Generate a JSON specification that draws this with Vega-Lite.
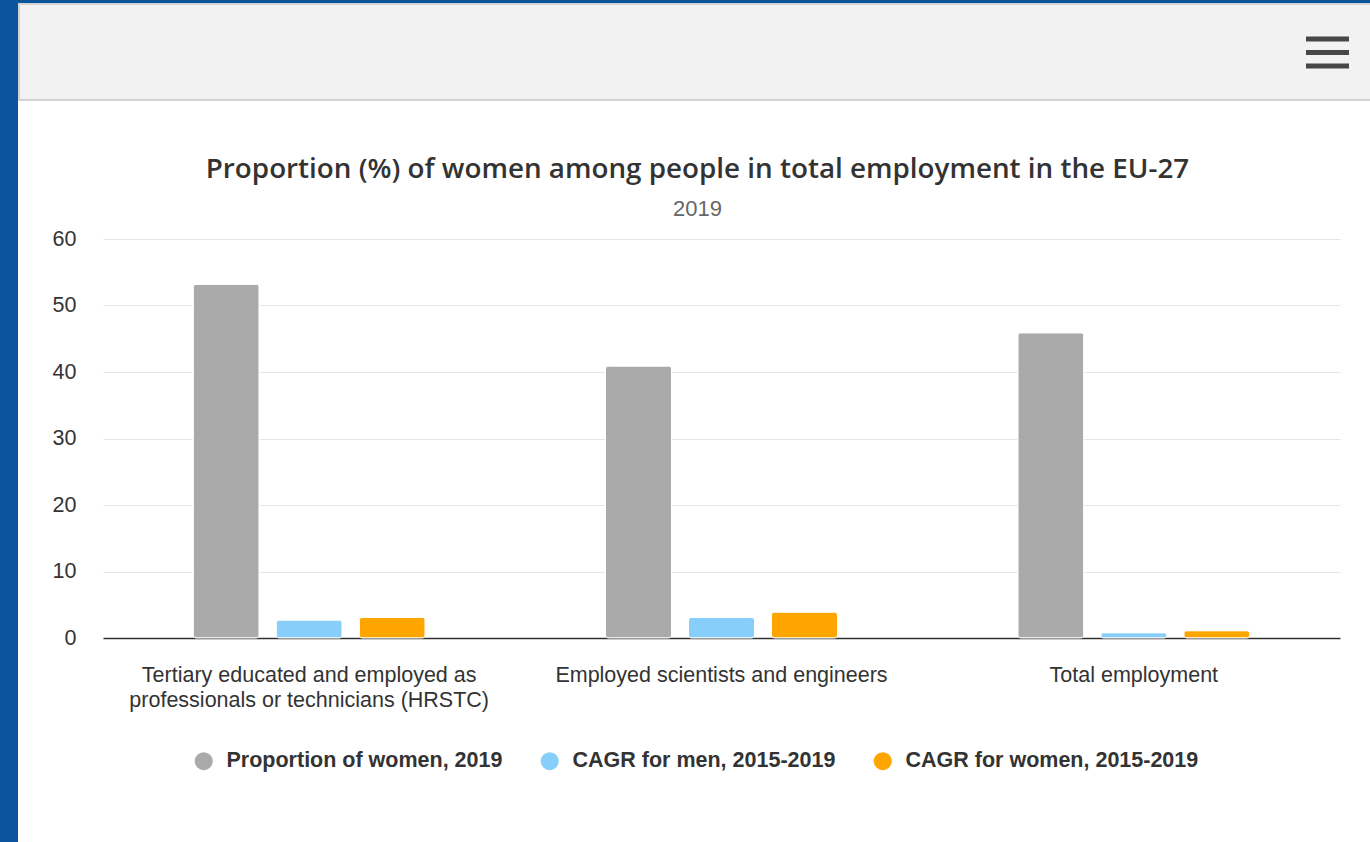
{
  "$schema": "https://vega.github.io/schema/vega-lite/v6.json",
  "background": "white",
  "padding": 0,
  "config": {"view": {"stroke": null}},
  "spacing": 0,
  "hconcat": [
    {
      "width": 18, "height": 842,
      "view": {"fill": "#0a559b", "stroke": null},
      "data": {"values": []},
      "mark": "point",
      "encoding": {}
    },
    {
      "spacing": 55,
      "vconcat": [
        {
          "width": 1267, "height": 100,
          "data": {"values": [{"part": "header"}]},
          "encoding": {
            "x": {"datum": -85, "type": "quantitative", "scale": {"domain": [0, 1267], "nice": false, "zero": false}, "axis": null},
            "y": {"datum": 0, "type": "quantitative", "scale": {"domain": [0, 100], "reverse": true, "nice": false, "zero": false}, "axis": null}
          },
          "layer": [
            {
              "mark": {"type": "rect", "fill": "#0a559b"},
              "encoding": {
                "x": {"datum": -85, "type": "quantitative"},
                "x2": {"datum": 1267},
                "y": {"datum": 0, "type": "quantitative"},
                "y2": {"datum": 3}
              }
            },
            {
              "mark": {"type": "rect", "fill": "#f2f2f2", "stroke": "#d3d3d3", "strokeWidth": 2},
              "encoding": {
                "x": {"datum": -84, "type": "quantitative"},
                "x2": {"datum": 1268},
                "y": {"datum": 4, "type": "quantitative"},
                "y2": {"datum": 100}
              }
            },
            {
              "mark": {"type": "rule", "strokeWidth": 5, "color": "#474747"},
              "encoding": {
                "x": {"datum": 1203, "type": "quantitative"},
                "x2": {"datum": 1246},
                "y": {"datum": 39, "type": "quantitative"}
              }
            },
            {
              "mark": {"type": "rule", "strokeWidth": 5, "color": "#474747"},
              "encoding": {
                "x": {"datum": 1203, "type": "quantitative"},
                "x2": {"datum": 1246},
                "y": {"datum": 52.5, "type": "quantitative"}
              }
            },
            {
              "mark": {"type": "rule", "strokeWidth": 5, "color": "#474747"},
              "encoding": {
                "x": {"datum": 1203, "type": "quantitative"},
                "x2": {"datum": 1246},
                "y": {"datum": 66, "type": "quantitative"}
              }
            }
          ]
        },
        {
          "width": 1237, "height": 399,
          "title": {
            "text": "Proportion (%) of women among people in total employment in the EU-27",
            "subtitle": "2019",
            "font": "Open Sans",
            "fontSize": 27.8,
            "fontWeight": 600,
            "color": "#333333",
            "subtitleFont": "Liberation Sans",
            "subtitleFontSize": 22,
            "subtitleColor": "#666666",
            "subtitlePadding": 15,
            "anchor": "middle",
            "frame": "group",
            "dx": -24,
            "offset": 8
          },
          "data": {"values": [
            {"category": "Tertiary educated and employed as professionals or technicians (HRSTC)", "series": "Proportion of women, 2019", "value": 53.2},
            {"category": "Tertiary educated and employed as professionals or technicians (HRSTC)", "series": "CAGR for men, 2015-2019", "value": 2.7},
            {"category": "Tertiary educated and employed as professionals or technicians (HRSTC)", "series": "CAGR for women, 2015-2019", "value": 3.1},
            {"category": "Employed scientists and engineers", "series": "Proportion of women, 2019", "value": 40.9},
            {"category": "Employed scientists and engineers", "series": "CAGR for men, 2015-2019", "value": 3.1},
            {"category": "Employed scientists and engineers", "series": "CAGR for women, 2015-2019", "value": 3.9},
            {"category": "Total employment", "series": "Proportion of women, 2019", "value": 45.9},
            {"category": "Total employment", "series": "CAGR for men, 2015-2019", "value": 0.8},
            {"category": "Total employment", "series": "CAGR for women, 2015-2019", "value": 1.1}
          ]},
          "mark": {"type": "bar", "cornerRadius": 3, "stroke": "white", "strokeWidth": 1},
          "encoding": {
            "x": {
              "field": "category", "type": "nominal",
              "sort": ["Tertiary educated and employed as professionals or technicians (HRSTC)", "Employed scientists and engineers", "Total employment"],
              "scale": {"paddingInner": 0.4373, "paddingOuter": 0.2187},
              "axis": {
                "title": null, "labelAngle": 0, "ticks": false,
                "domainColor": "#333333", "domainWidth": 1.5,
                "labelFont": "Liberation Sans", "labelFontSize": 21.5, "labelColor": "#333333",
                "labelPadding": 26, "labelLineHeight": 25, "labelLimit": 0,
                "labelExpr": "datum.label == 'Tertiary educated and employed as professionals or technicians (HRSTC)' ? ['Tertiary educated and employed as', 'professionals or technicians (HRSTC)'] : datum.label"
              }
            },
            "xOffset": {
              "field": "series", "type": "nominal",
              "sort": ["Proportion of women, 2019", "CAGR for men, 2015-2019", "CAGR for women, 2015-2019"],
              "scale": {"paddingInner": 0.2048, "paddingOuter": 0}
            },
            "y": {
              "field": "value", "type": "quantitative",
              "scale": {"domain": [0, 60], "nice": false},
              "axis": {
                "title": null, "values": [0, 10, 20, 30, 40, 50, 60],
                "ticks": false, "domain": false,
                "gridColor": "#e6e6e6", "gridWidth": 1,
                "labelFont": "Liberation Sans", "labelFontSize": 21.5, "labelColor": "#333333",
                "labelPadding": 27, "minExtent": 85, "maxExtent": 85
              }
            },
            "color": {
              "field": "series", "type": "nominal",
              "scale": {
                "domain": ["Proportion of women, 2019", "CAGR for men, 2015-2019", "CAGR for women, 2015-2019"],
                "range": ["#aaaaaa", "#87cefa", "#ffa500"]
              },
              "legend": {
                "title": null, "orient": "none", "direction": "horizontal",
                "legendX": 193, "legendY": 750,
                "symbolType": "circle", "symbolSize": 324, "symbolStrokeWidth": 0,
                "labelFont": "Liberation Sans", "labelFontSize": 21.5, "labelFontWeight": "bold",
                "labelColor": "#333333", "labelOffset": 12, "columnPadding": 36,
                "labelLimit": 0
              }
            }
          }
        }
      ]
    }
  ]
}
